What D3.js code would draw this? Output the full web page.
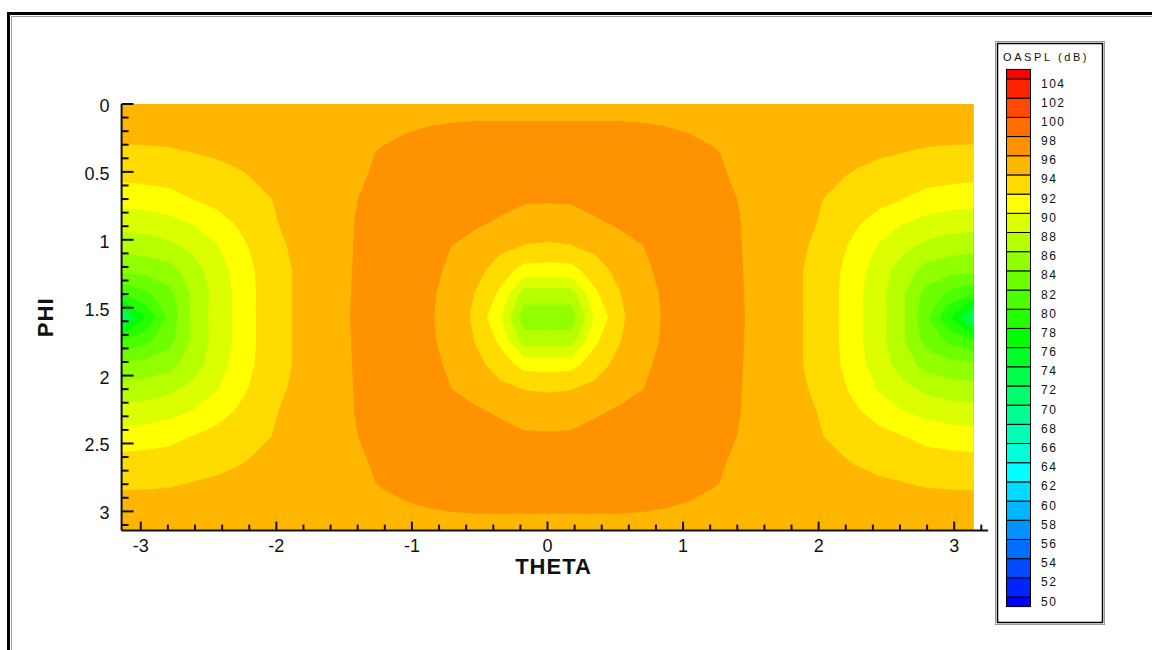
<!DOCTYPE html>
<html>
<head>
<meta charset="utf-8">
<script src="https://cdn.jsdelivr.net/npm/d3@7"></script>
<style>
  html, body { margin: 0; padding: 0; background: #fff; }
  svg { display: block; }
  text { font-family: "Liberation Sans", Arial, sans-serif; fill: #111; }
</style>
</head>
<body>
<svg id="chart" width="1152" height="650"></svg>
<script>
// Grid node angles in degrees for one quadrant of the sphere.
// The OASPL field is symmetric about THETA = 0 and PHI = 90 deg, so the
// quadrant is mirrored to fill THETA in [-180, 180] and PHI in [0, 180].
const thetaDeg = [0, 10, 20, 30, 40, 50, 60, 70, 80, 90, 100, 110, 120, 130, 140, 150, 160, 170, 180];
const phiDeg = [0, 10, 20, 30, 40, 50, 60, 70, 80, 90];

// OASPL (dB): one row per PHI node, one value per THETA node.
const oasplPhi00 = [95.6, 95.6, 95.6, 95.6, 95.6, 95.6, 95.6, 95.6, 95.6, 95.6, 95.6, 95.6, 95.6, 95.6, 95.6, 95.6, 95.6, 95.6, 95.6];
const oasplPhi10 = [96.15, 96.15, 96.15, 96.15, 96.1, 96.02, 95.9, 95.8, 95.7, 95.6, 95.5, 95.45, 95.4, 95.35, 95.3, 95.25, 95.2, 95.15, 95.1];
const oasplPhi20 = [96.6, 96.6, 96.6, 96.6, 96.55, 96.5, 96.3, 96.05, 95.85, 95.6, 95.35, 95.1, 94.85, 94.6, 94.3, 94.05, 93.7, 93.55, 93.5];
const oasplPhi30 = [96.7, 96.7, 96.7, 96.7, 96.7, 96.7, 96.6, 96.3, 95.8, 95.5, 95.1, 94.75, 94.35, 93.8, 93.3, 93.0, 92.8, 92.7, 92.5];
const oasplPhi40 = [96.2, 96.25, 96.5, 96.8, 97.0, 97.0, 96.9, 96.6, 96.0, 95.6, 95.0, 94.35, 93.8, 93.2, 92.6, 92.0, 91.3, 90.9, 90.73];
const oasplPhi50 = [95.05, 95.15, 95.8, 96.2, 96.6, 97.1, 97.2, 97.0, 96.1, 95.5, 95.1, 94.3, 93.5, 92.3, 91.2, 90.1, 89.4, 89.0, 88.86];
const oasplPhi60 = [93.74, 93.9, 94.5, 95.4, 95.95, 96.7, 97.2, 97.3, 96.15, 95.4, 94.9, 94.0, 92.9, 91.5, 89.8, 88.6, 87.5, 86.9, 86.6];
const oasplPhi70 = [91.1, 91.3, 93.0, 94.6, 95.6, 96.5, 97.2, 97.3, 96.2, 95.4, 94.75, 93.8, 92.7, 90.8, 89.1, 87.0, 85.3, 84.7, 84.5];
const oasplPhi80 = [87.0, 87.0, 91.6, 93.8, 95.5, 96.2, 97.1, 97.2, 96.25, 95.4, 94.7, 93.8, 92.6, 90.6, 88.7, 86.3, 83.3, 81.5, 80.0];
const oasplPhi90 = [84.8, 84.8, 90.2, 93.3, 95.6, 96.1, 97.0, 97.2, 96.3, 95.4, 94.6, 93.84, 92.65, 90.58, 88.76, 86.45, 82.4, 78.0, 71.0];
const oasplRows = [oasplPhi00, oasplPhi10, oasplPhi20, oasplPhi30, oasplPhi40,
                   oasplPhi50, oasplPhi60, oasplPhi70, oasplPhi80, oasplPhi90];

// Contour levels (dB) and axis ticks
const contourLevels = [50, 52, 54, 56, 58, 60, 62, 64, 66, 68, 70, 72, 74, 76, 78,
                       80, 82, 84, 86, 88, 90, 92, 94, 96, 98, 100, 102, 104];
const xMajorTicks = [-3, -2, -1, 0, 1, 2, 3];
const xMinorTicks = [-2.8, -2.6, -2.4, -2.2, -1.8, -1.6, -1.4, -1.2, -0.8, -0.6, -0.4, -0.2,
                     0.2, 0.4, 0.6, 0.8, 1.2, 1.4, 1.6, 1.8, 2.2, 2.4, 2.6, 2.8, 3.2];
const yMajorTicks = [0, 0.5, 1, 1.5, 2, 2.5, 3];
const yMinorTicks = [0.1, 0.2, 0.3, 0.4, 0.6, 0.7, 0.8, 0.9, 1.1, 1.2, 1.3, 1.4, 1.6, 1.7, 1.8, 1.9,
                     2.1, 2.2, 2.3, 2.4, 2.6, 2.7, 2.8, 2.9, 3.1];
const xAxisEnd = 3.25;

// ---- full grid (mirrored quadrant) ----
const nq = thetaDeg.length;            // 19
const nTheta = 2 * nq - 1;             // 37 columns, THETA -180..180
const nPhi = 2 * phiDeg.length - 1;    // 19 rows, PHI 0..180
const grid = new Array(nTheta * nPhi);
for (let r = 0; r < nPhi; r++) {
  const jr = r < phiDeg.length ? r : nPhi - 1 - r;
  for (let c = 0; c < nTheta; c++) {
    const kc = Math.abs(c - (nq - 1));
    grid[r * nTheta + c] = oasplRows[jr][kc];
  }
}
const rad = Math.PI / 180;
const dTheta = (thetaDeg[1] - thetaDeg[0]) * rad;
const dPhi = (phiDeg[1] - phiDeg[0]) * rad;
const theta0 = -thetaDeg[nq - 1] * rad;

// ---- scales ----
const x = d3.scaleLinear().domain([-Math.PI, Math.PI]).range([121.6, 973.4]);
const y = d3.scaleLinear().domain([0, Math.PI]).range([104, 530.6]);

// Tecplot-style small rainbow, one colour per band (29 bands)
const rainbow = d3.scaleLinear()
  .domain([0, 0.25, 0.5, 0.75, 1])
  .range(["#0000ff", "#00ffff", "#00ff00", "#ffff00", "#ff0000"])
  .interpolate(d3.interpolateRgb);
const nBands = contourLevels.length + 1;
const bandColor = i => rainbow(i / (nBands - 1));

const svg = d3.select("#chart");

// outer frame (runs off the right and bottom of the page)
svg.append("path")
  .attr("d", "M8.5,660 V13.5 H1160")
  .attr("fill", "none").attr("stroke", "#000").attr("stroke-width", 3);
svg.append("path")
  .attr("d", "M11.5,660 V16.5 H1160")
  .attr("fill", "none").attr("stroke", "#999").attr("stroke-width", 1);

// ---- contour flood ----
svg.append("clipPath").attr("id", "plotClip")
  .append("rect")
  .attr("x", x(-Math.PI)).attr("y", y(0))
  .attr("width", x(Math.PI) - x(-Math.PI)).attr("height", y(Math.PI) - y(0));

// d3.contours places sample i at grid coordinate i + 0.5
const toScreen = d3.geoTransform({
  point(gx, gy) {
    this.stream.point(x(theta0 + (gx - 0.5) * dTheta), y((gy - 0.5) * dPhi));
  }
});
const path = d3.geoPath(toScreen);

const contours = d3.contours()
  .size([nTheta, nPhi])
  .thresholds(contourLevels)(grid);

const plot = svg.append("g").attr("clip-path", "url(#plotClip)");
plot.append("rect")
  .attr("x", x(-Math.PI)).attr("y", y(0))
  .attr("width", x(Math.PI) - x(-Math.PI)).attr("height", y(Math.PI) - y(0))
  .attr("fill", bandColor(0));
plot.selectAll("path.band")
  .data(contours)
  .join("path")
  .attr("class", "band")
  .attr("d", path)
  .attr("fill", (d, i) => bandColor(i + 1))
  .attr("stroke", (d, i) => bandColor(i + 1))
  .attr("stroke-width", 0.6);

// ---- axes ----
const tickFont = 18;
const axisG = svg.append("g");

// x axis
const xAxisG = axisG.append("g").attr("transform", `translate(0,${y(Math.PI)})`);
xAxisG.append("line")
  .attr("x1", x(-Math.PI)).attr("x2", x(xAxisEnd))
  .attr("stroke", "#111").attr("stroke-width", 2);
xAxisG.selectAll("line.minor").data(xMinorTicks).join("line")
  .attr("class", "minor")
  .attr("x1", d => x(d)).attr("x2", d => x(d))
  .attr("y1", 0).attr("y2", -6)
  .attr("stroke", "#111").attr("stroke-width", 2);
xAxisG.selectAll("line.major").data(xMajorTicks).join("line")
  .attr("class", "major")
  .attr("x1", d => x(d)).attr("x2", d => x(d))
  .attr("y1", 0).attr("y2", -9)
  .attr("stroke", "#111").attr("stroke-width", 2);
xAxisG.selectAll("text").data(xMajorTicks).join("text")
  .attr("x", d => x(d)).attr("y", 21)
  .attr("text-anchor", "middle")
  .attr("font-size", tickFont)
  .text(d => d);

// y axis
const yAxisG = axisG.append("g").attr("transform", `translate(${x(-Math.PI)},0)`);
yAxisG.append("line")
  .attr("y1", y(0)).attr("y2", y(Math.PI))
  .attr("stroke", "#111").attr("stroke-width", 2);
yAxisG.selectAll("line.minor").data(yMinorTicks).join("line")
  .attr("class", "minor")
  .attr("y1", d => y(d)).attr("y2", d => y(d))
  .attr("x1", 0).attr("x2", 7)
  .attr("stroke", "#111").attr("stroke-width", 2);
yAxisG.selectAll("line.major").data(yMajorTicks).join("line")
  .attr("class", "major")
  .attr("y1", d => y(d)).attr("y2", d => y(d))
  .attr("x1", 0).attr("x2", 12)
  .attr("stroke", "#111").attr("stroke-width", 2);
yAxisG.selectAll("text").data(yMajorTicks).join("text")
  .attr("x", -12).attr("y", d => y(d) + 8)
  .attr("text-anchor", "end")
  .attr("font-size", tickFont)
  .text(d => d);

// axis titles
svg.append("text")
  .attr("x", (x(-Math.PI) + x(Math.PI)) / 2 + 6).attr("y", 574)
  .attr("text-anchor", "middle")
  .attr("font-size", 22).attr("font-weight", "bold")
  .attr("letter-spacing", 1)
  .text("THETA");
svg.append("text")
  .attr("transform", `translate(53,${(y(0) + y(Math.PI)) / 2}) rotate(-90)`)
  .attr("text-anchor", "middle")
  .attr("font-size", 22).attr("font-weight", "bold")
  .attr("letter-spacing", 1)
  .text("PHI");

// ---- legend ----
const legend = svg.append("g");
legend.append("rect")
  .attr("x", 995.5).attr("y", 41.5).attr("width", 109).attr("height", 583)
  .attr("fill", "#fff").attr("stroke", "#999").attr("stroke-width", 1);
legend.append("rect")
  .attr("x", 997.5).attr("y", 43.5).attr("width", 105).attr("height", 579)
  .attr("fill", "#fff").attr("stroke", "#000").attr("stroke-width", 1.5);
legend.append("text")
  .attr("x", 1003).attr("y", 61)
  .attr("font-size", 11).attr("letter-spacing", 2.6)
  .text("OASPL (dB)");

const ly = d3.scaleLinear()
  .domain([contourLevels[0], contourLevels[contourLevels.length - 1]])
  .range([597, 79]);
const step = contourLevels[1] - contourLevels[0];
const bands = d3.range(nBands).map(i => ({
  i,
  lo: i === 0 ? contourLevels[0] - step / 2 : contourLevels[i - 1],
  hi: i === nBands - 1 ? contourLevels[nBands - 2] + step / 2 : contourLevels[i]
}));
legend.selectAll("rect.sw").data(bands).join("rect")
  .attr("class", "sw")
  .attr("x", 1006.5).attr("width", 24)
  .attr("y", d => ly(d.hi)).attr("height", d => ly(d.lo) - ly(d.hi))
  .attr("fill", d => bandColor(d.i))
  .attr("stroke", "#000").attr("stroke-width", 1);
legend.selectAll("text.lab").data(contourLevels).join("text")
  .attr("class", "lab")
  .attr("x", 1041).attr("y", d => ly(d) + 8.5)
  .attr("font-size", 12).attr("letter-spacing", 1.5)
  .text(d => d);
</script>
</body>
</html>
